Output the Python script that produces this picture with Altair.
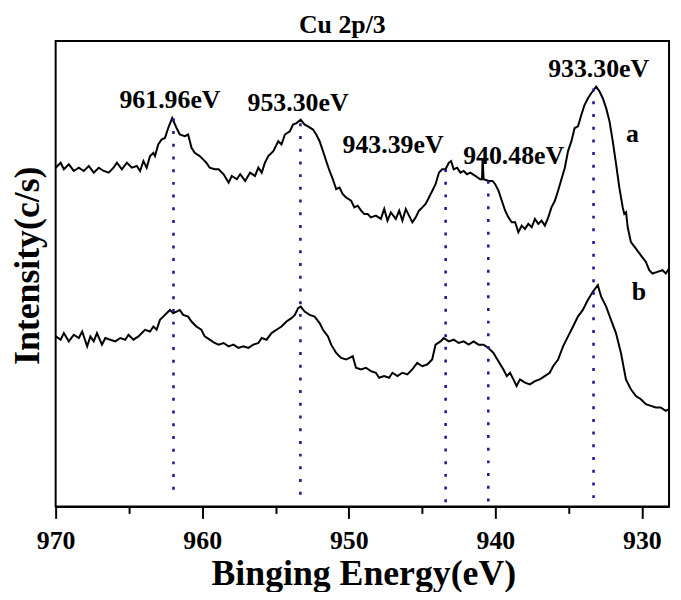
import altair as alt
import pandas as pd

# ---- curve a (upper spectrum) ----
energy_a = [970.00, 969.66, 969.44, 969.10, 968.76, 968.42, 968.08, 967.74, 967.40, 967.06,
            966.72, 966.38, 966.05, 965.82, 965.48, 965.14, 964.80, 964.46, 964.24, 964.01,
            963.79, 963.56, 963.33, 963.22, 963.00, 962.77, 962.54, 962.32, 962.05, 961.75,
            961.53, 961.19, 960.96, 960.73, 960.51, 960.17, 959.94, 959.72, 959.49, 959.15,
            958.88, 958.54, 958.20, 957.98, 957.64, 957.41, 957.07, 956.74, 956.40, 956.17,
            955.94, 955.72, 955.49, 955.15, 954.81, 954.59, 954.36, 954.02, 953.80, 953.57,
            953.28, 953.01, 952.78, 952.44, 952.22, 951.99, 951.76, 951.54, 951.31, 951.09,
            950.86, 950.63, 950.41, 950.18, 949.84, 949.62, 949.39, 949.16, 948.94, 948.71,
            948.49, 948.15, 947.81, 947.58, 947.36, 947.13, 946.79, 946.56, 946.34, 946.11,
            945.89, 945.66, 945.43, 945.21, 944.98, 944.76, 944.53, 944.30, 944.08, 943.85,
            943.63, 943.40, 943.17, 943.02, 942.84, 942.61, 942.38, 942.16, 941.93, 941.71,
            941.37, 941.03, 940.91, 940.87, 940.80, 940.46, 940.19, 940.01, 939.78, 939.56,
            939.33, 939.11, 938.88, 938.65, 938.43, 938.20, 937.98, 937.75, 937.52, 937.30,
            937.07, 936.85, 936.62, 936.39, 936.17, 935.94, 935.72, 935.49, 935.26, 935.04,
            934.81, 934.59, 934.36, 934.13, 933.91, 933.68, 933.46, 933.12, 932.89, 932.67,
            932.44, 932.21, 931.99, 931.76, 931.54, 931.31, 931.20, 931.08, 930.97, 930.75,
            930.41, 930.07, 929.73, 929.50, 929.28, 928.94, 928.60, 928.37, 928.15]
intensity_a = [341.3, 346.3, 339.7, 344.7, 338.0, 341.3, 338.0, 343.0, 336.3, 341.3,
               338.0, 336.3, 341.3, 346.3, 339.7, 346.3, 341.3, 343.0, 338.0, 348.0,
               341.3, 353.0, 356.3, 353.0, 364.7, 369.7, 371.3, 381.3, 391.3, 381.3,
               374.7, 373.0, 374.7, 361.3, 356.3, 353.0, 349.7, 346.3, 341.3, 339.7,
               339.7, 334.7, 326.3, 333.0, 329.7, 334.7, 328.0, 336.3, 333.0, 341.3,
               336.3, 346.3, 353.0, 358.0, 368.0, 364.7, 374.7, 378.0, 384.7, 386.3,
               389.7, 384.7, 383.0, 379.7, 374.7, 368.0, 358.0, 348.0, 338.0, 329.7,
               319.7, 321.3, 314.7, 311.3, 308.0, 301.3, 303.0, 298.0, 294.7, 294.7,
               291.3, 293.0, 289.7, 299.7, 288.0, 296.3, 289.7, 298.0, 288.0, 299.7,
               293.0, 286.3, 291.3, 298.0, 301.3, 304.7, 311.3, 318.0, 324.7, 336.3,
               339.7, 339.7, 346.3, 348.0, 339.7, 341.3, 336.3, 338.0, 334.7, 336.3,
               333.0, 329.7, 329.7, 351.0, 329.7, 328.0, 328.0, 324.7, 318.0, 308.0,
               298.0, 291.3, 286.3, 286.3, 276.3, 283.0, 279.7, 284.7, 281.3, 289.7,
               284.7, 288.0, 283.0, 291.3, 301.3, 308.0, 318.0, 329.7, 341.3, 358.0,
               368.0, 381.3, 383.0, 394.7, 404.7, 411.3, 416.3, 423.0, 418.0, 411.3,
               401.3, 388.0, 368.0, 344.7, 321.3, 301.3, 294.7, 296.3, 281.3, 266.3,
               259.7, 253.0, 246.3, 238.0, 234.7, 236.3, 238.0, 234.7, 239.7]

# ---- curve b (lower spectrum) ----
energy_b = [970.00, 969.66, 969.44, 969.10, 968.76, 968.42, 968.19, 967.85, 967.63, 967.40,
            967.18, 966.84, 966.61, 966.27, 965.93, 965.59, 965.25, 965.03, 964.69, 964.35,
            964.12, 963.90, 963.56, 963.33, 963.11, 962.88, 962.66, 962.43, 962.20, 961.98,
            961.75, 961.53, 961.30, 960.96, 960.73, 960.40, 960.06, 959.83, 959.49, 959.15,
            958.88, 958.54, 958.20, 957.87, 957.53, 957.19, 956.85, 956.51, 956.17, 955.94,
            955.61, 955.27, 954.93, 954.59, 954.25, 953.91, 953.68, 953.46, 953.28, 953.01,
            952.67, 952.33, 951.99, 951.76, 951.42, 951.20, 950.86, 950.52, 950.18, 949.73,
            949.51, 949.17, 948.83, 948.49, 948.15, 947.93, 947.59, 947.25, 947.02, 946.68,
            946.34, 946.00, 945.67, 945.33, 944.99, 944.65, 944.31, 944.08, 943.74, 943.52,
            943.18, 942.84, 942.50, 942.16, 941.82, 941.48, 941.15, 940.81, 940.47, 940.13,
            939.79, 939.45, 939.22, 939.00, 938.77, 938.55, 938.32, 937.98, 937.64, 937.30,
            936.97, 936.63, 936.29, 936.06, 935.72, 935.38, 935.04, 934.70, 934.37, 934.03,
            933.69, 933.35, 933.01, 932.78, 932.44, 932.11, 931.77, 931.43, 931.09, 930.75,
            930.41, 930.07, 929.73, 929.39, 929.05, 928.72, 928.38, 928.15]
intensity_b = [171.3, 168.0, 174.7, 166.3, 173.0, 169.7, 176.3, 161.3, 171.3, 166.3,
               174.7, 163.0, 169.7, 168.0, 166.3, 169.7, 168.0, 173.0, 168.0, 171.3,
               174.7, 178.0, 176.3, 181.3, 178.0, 188.0, 191.3, 194.7, 198.0, 194.7,
               196.3, 198.0, 193.0, 191.3, 186.3, 181.3, 178.0, 171.3, 168.0, 164.7,
               163.0, 164.7, 161.3, 163.0, 159.7, 161.3, 159.7, 163.0, 164.7, 169.7,
               168.0, 174.7, 178.0, 181.3, 186.3, 189.7, 193.0, 199.7, 201.3, 196.3,
               193.0, 191.3, 184.7, 178.0, 171.3, 163.0, 154.7, 149.7, 148.0, 151.3,
               139.7, 138.0, 139.7, 136.3, 134.7, 129.7, 131.3, 129.7, 134.7, 131.3,
               134.7, 133.0, 138.0, 144.7, 141.3, 143.0, 148.0, 163.0, 166.3, 169.7,
               166.3, 168.0, 164.7, 166.3, 163.0, 166.3, 163.0, 163.0, 159.7, 154.7,
               146.3, 138.0, 131.3, 134.7, 128.0, 121.3, 128.0, 124.7, 123.0, 126.3,
               128.0, 131.3, 134.7, 141.3, 148.0, 161.3, 171.3, 181.3, 191.3, 198.0,
               208.0, 216.3, 223.0, 211.3, 201.3, 188.0, 174.7, 154.7, 128.0, 118.0,
               111.3, 108.0, 103.0, 101.3, 99.7, 99.7, 96.3, 98.0]

# ---- peak markers ----
peak_energy = [961.96, 953.30, 943.39, 940.48, 933.30]
peak_top = [391, 386, 340, 328, 421]
peak_bottom = [11, 6, 0, 4, 5]
peak_text = ["961.96eV", "953.30eV", "943.39eV", "940.48eV", "933.30eV"]
label_energy = [962.2, 953.46, 946.98, 938.75, 932.95]
label_intensity = [401, 398, 356, 345, 433]

series_names = ["a", "b"]
series_label_energy = [930.64, 930.2]
series_label_intensity = [367, 208]

title_text = ["Cu 2p/3"]
title_energy = [950.44]
title_intensity = [477]

x_ticks = [970, 965, 960, 955, 950, 945, 940, 935, 930]

FONT = "Liberation Serif"

curves = pd.concat([
    pd.DataFrame({"energy": energy_a, "intensity": intensity_a, "series": "a"}),
    pd.DataFrame({"energy": energy_b, "intensity": intensity_b, "series": "b"}),
])
peaks = pd.DataFrame({"energy": peak_energy, "intensity": peak_top, "bottom": peak_bottom})
peak_labels = pd.DataFrame({"energy": label_energy, "intensity": label_intensity, "text": peak_text})
series_labels = pd.DataFrame({"energy": series_label_energy, "intensity": series_label_intensity,
                              "text": series_names})
title_df = pd.DataFrame({"energy": title_energy, "intensity": title_intensity, "text": title_text})

x_scale = alt.Scale(domain=[928.15, 970], reverse=True, nice=False, zero=False)
y_scale = alt.Scale(domain=[0, 469], nice=False, zero=False)

x_axis = alt.Axis(
    title="Binging Energy(eV)", values=x_ticks,
    labelExpr="datum.value % 10 === 0 ? datum.label : ''",
    tickSize={"condition": {"test": "datum.value % 10 === 0", "value": 12}, "value": 7},
    tickColor="black", tickWidth=2, domainColor="black", domainWidth=2,
    grid=False, labelFont=FONT, labelFontSize=26, labelFontWeight="bold", labelColor="black",
    labelPadding=9, labelFlush=False, labelOverlap=False,
    titleFont=FONT, titleFontSize=36, titleFontWeight="bold", titleColor="black",
    titleBaseline="alphabetic", titleAlign="center", titleX=310, titleY=79,
)
y_axis = alt.Axis(
    title="Intensity(c/s)", labels=False, ticks=False, domain=False, grid=False,
    titleFont=FONT, titleFontSize=36, titleFontWeight="bold", titleColor="black",
    titleAngle=270, titleBaseline="alphabetic", titleAlign="center", titleX=-17, titleY=226,
)

lines = alt.Chart(curves).mark_line(color="black", strokeWidth=2).encode(
    x=alt.X("energy:Q", scale=x_scale, axis=x_axis),
    y=alt.Y("intensity:Q", scale=y_scale, axis=y_axis),
    detail="series:N",
)
rules = alt.Chart(peaks).mark_rule(color="#1c1c96", strokeWidth=2.6, strokeDash=[3, 9.8]).encode(
    x="energy:Q", y="intensity:Q", y2="bottom:Q",
)
ptext = alt.Chart(peak_labels).mark_text(
    font=FONT, fontSize=26, fontWeight="bold", color="black", align="center", baseline="alphabetic"
).encode(x="energy:Q", y="intensity:Q", text="text:N")
stext = alt.Chart(series_labels).mark_text(
    font=FONT, fontSize=26, fontWeight="bold", color="black", align="center", baseline="alphabetic"
).encode(x="energy:Q", y="intensity:Q", text="text:N")
ttext = alt.Chart(title_df).mark_text(
    font=FONT, fontSize=26, fontWeight="bold", color="black", align="center", baseline="alphabetic"
).encode(x="energy:Q", y="intensity:Q", text="text:N")

chart = alt.layer(lines, rules, ptext, stext, ttext).properties(
    width=618, height=469,
    autosize=alt.AutoSizeParams(type="none"),
    padding={"left": 48, "top": 31, "right": 4, "bottom": 84},
).configure_view(stroke="black", strokeWidth=2)

chart.save("out.html", embed_options={"renderer": "svg", "actions": False})
